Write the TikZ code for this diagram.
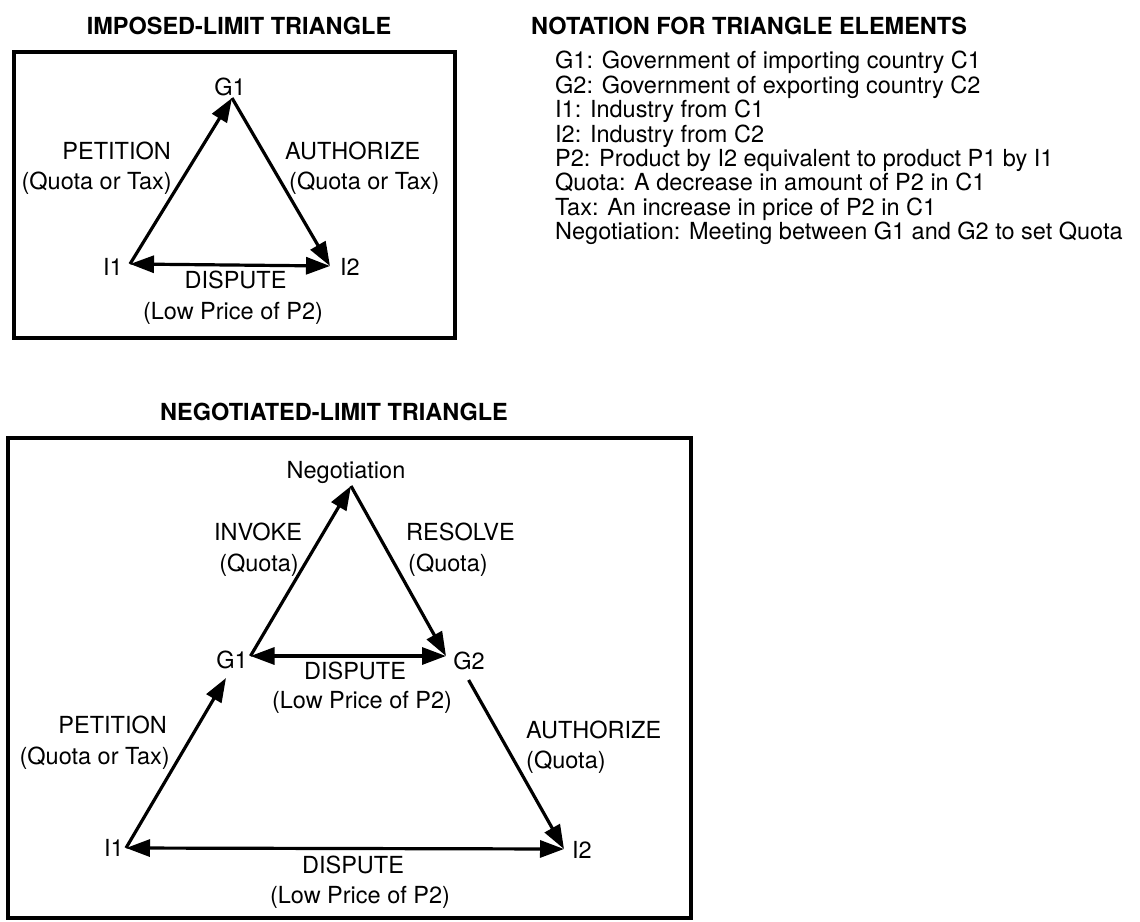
\documentclass[tikz,border=0pt]{standalone}
\usepackage{fontspec}
\setmainfont{TeX Gyre Heros}
\usetikzlibrary{arrows.meta}
\begin{document}
\begin{tikzpicture}[x=1pt,y=-1pt,
  lbl/.style={inner sep=0pt, font=\fontsize{23.5}{28}\selectfont},
  ttl/.style={inner sep=0pt, font=\fontsize{23.5}{28}\selectfont\bfseries},
  frame/.style={line width=3.2pt},
  link/.style={line width=3.2pt, -{Triangle[length=24pt,width=17pt]}},
  both/.style={line width=3.2pt, {Triangle[length=24pt,width=17pt]}-{Triangle[length=24pt,width=17pt]}}
]
\useasboundingbox (0,0) rectangle (1140,921);

% ---------- imposed-limit triangle ----------
\node[ttl, anchor=base] (ttlA) at (239,34) {IMPOSED-LIMIT TRIANGLE};
\draw[frame] (14,52) rectangle (455,338);

\coordinate (aG1) at (232,98);
\coordinate (aI1) at (130,264);
\coordinate (aI2) at (330,266);

\node[lbl, anchor=base] (labG1) at (230,95.5) {G1};
\node[lbl, anchor=base] (labI1) at (113,275.5) {I1};
\node[lbl, anchor=base] (labI2) at (350,275.5) {I2};

\draw[link] (aI1) -- (aG1);
\draw[link] (aG1) -- (aI2);
\draw[both] (aI1) -- (aI2);

\node[lbl, anchor=base east] (petA1) at (171,159.5) {PETITION};
\node[lbl, anchor=base east] (petA2) at (172,189.5) {(Quota or Tax)};
\node[lbl, anchor=base west] (autA1) at (285,159.5) {AUTHORIZE};
\node[lbl, anchor=base west] (autA2) at (289,189.5) {(Quota or Tax)};
\node[lbl, anchor=base] (disA1) at (235.5,288.5) {DISPUTE};
\node[lbl, anchor=base] (disA2) at (233,319) {(Low Price of P2)};

% ---------- notation ----------
\node[ttl, anchor=base west] (notT) at (531,34.5) {NOTATION FOR TRIANGLE ELEMENTS};
\foreach \t [count=\k from 0] in {
  {G1: Government of importing country C1},
  {G2: Government of exporting country C2},
  {I1: Industry from C1},
  {I2: Industry from C2},
  {P2: Product by I2 equivalent to product P1 by I1},
  {Quota: A decrease in amount of P2 in C1},
  {Tax: An increase in price of P2 in C1},
  {Negotiation: Meeting between G1 and G2 to set Quota}}
  \node[lbl, anchor=base west] (not\k) at (555,68.8+24.4*\k) {\t};

% ---------- negotiated-limit triangle ----------
\node[ttl, anchor=base] (ttlB) at (334,420.5) {NEGOTIATED-LIMIT TRIANGLE};
\draw[frame] (8,438) rectangle (691,918);

\coordinate (bN) at (351,486);
\coordinate (bG1) at (250.5,656);
\coordinate (bG2) at (446,656);
\coordinate (bG1in) at (226,678);
\coordinate (bG2out) at (468.6,680);
\coordinate (bI1) at (126,848);
\coordinate (bI2) at (564,849);

\node[lbl, anchor=base] (labN) at (346,478) {Negotiation};
\node[lbl, anchor=base] (labBG1) at (232,668.5) {G1};
\node[lbl, anchor=base] (labBG2) at (469,669.5) {G2};
\node[lbl, anchor=base] (labBI1) at (114,856.5) {I1};
\node[lbl, anchor=base] (labBI2) at (582,858.5) {I2};

\draw[link] (bG1) -- (bN);
\draw[link] (bN) -- (bG2);
\draw[both] (bG1) -- (bG2);
\draw[link] (bI1) -- (bG1in);
\draw[link] (bG2out) -- (bI2);
\draw[both] (bI1) -- (bI2);

\node[lbl, anchor=base] (invB1) at (258,540) {INVOKE};
\node[lbl, anchor=base] (invB2) at (259,571.5) {(Quota)};
\node[lbl, anchor=base west] (resB1) at (406,540.5) {RESOLVE};
\node[lbl, anchor=base west] (resB2) at (408,571.5) {(Quota)};
\node[lbl, anchor=base] (disB1) at (355,679.5) {DISPUTE};
\node[lbl, anchor=base] (disB2) at (362,708.5) {(Low Price of P2)};
\node[lbl, anchor=base east] (petB1) at (167,733.5) {PETITION};
\node[lbl, anchor=base east] (petB2) at (170,764.5) {(Quota or Tax)};
\node[lbl, anchor=base west] (autB1) at (526,738.5) {AUTHORIZE};
\node[lbl, anchor=base west] (autB2) at (526,768.5) {(Quota)};
\node[lbl, anchor=base] (disC1) at (353,873) {DISPUTE};
\node[lbl, anchor=base] (disC2) at (360,903) {(Low Price of P2)};
\end{tikzpicture}
\end{document}
